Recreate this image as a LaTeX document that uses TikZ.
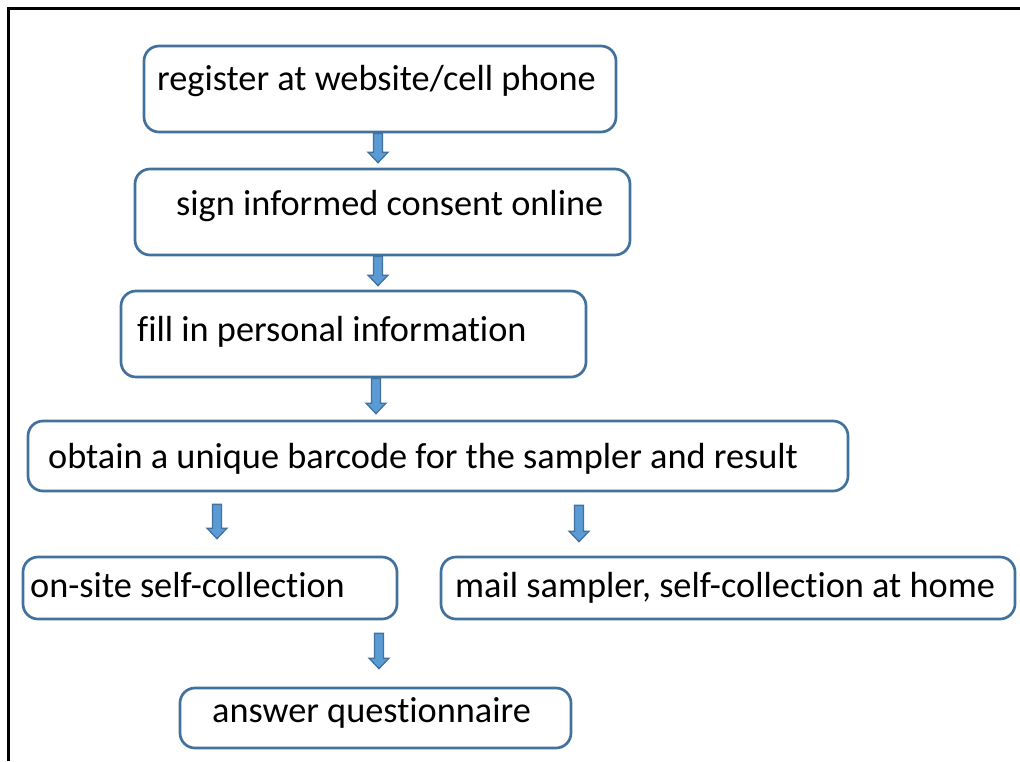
\documentclass[tikz,border=0pt]{standalone}
\usepackage{fontspec}
\setmainfont[Ligatures=NoCommon]{Carlito}
\usetikzlibrary{calc}
\definecolor{boxline}{HTML}{41719C}
\definecolor{arrowfill}{HTML}{5B9BD5}
\tikzset{
  stepbox/.style={draw=boxline, line width=2.7pt, rounded corners=15pt,
    inner sep=0pt, fill=white},
  steptext/.style={inner sep=0pt, anchor=base west,
    font=\fontsize{36.3}{40}\selectfont},
  blockarrow/.style={fill=arrowfill, draw=boxline, line width=1.3pt},
  frameline/.style={line width=3pt, black},
}
% downward block arrow from the top of its shaft (#1) to its tip (#2)
\newcommand\blockdown[2]{%
  \draw[blockarrow] let \p1=#1, \p2=#2 in
    (\x1-4.5pt,\y1) -- (\x1+4.5pt,\y1) -- (\x1+4.5pt,\y2+10.5pt)
    -- (\x1+10pt,\y2+10.5pt) -- (\x1,\y2) -- (\x1-10pt,\y2+10.5pt)
    -- (\x1-4.5pt,\y2+10.5pt) -- cycle;}
\begin{document}
\begin{tikzpicture}[x=1pt, y=-1pt]
  \useasboundingbox (0,0) rectangle (1020,761);
  \draw[frameline] (8.5,761) -- (8.5,8.5) -- (1020,8.5);

  % boxes
  \node[stepbox, minimum width=472pt, minimum height=86pt] (b1) at (380,89) {};
  \node[stepbox, minimum width=495pt, minimum height=86pt] (b2) at (382.5,212) {};
  \node[stepbox, minimum width=465pt, minimum height=86pt] (b3) at (353.5,334) {};
  \node[stepbox, minimum width=820pt, minimum height=70pt] (b4) at (438,456) {};
  \node[stepbox, minimum width=374pt, minimum height=62pt] (b5) at (210,588) {};
  \node[stepbox, minimum width=574pt, minimum height=62pt] (b6) at (728,588) {};
  \node[stepbox, minimum width=391pt, minimum height=60pt] (b7) at (375.5,718) {};

  % texts
  \node[steptext] (t1) at (157,90)  {register at website/cell phone};
  \node[steptext] (t2) at (176,215) {sign informed consent online};
  \node[steptext] (t3) at (137,341) {fill in personal information};
  \node[steptext] (t4) at (48,468)  {obtain a unique barcode for the sampler and result};
  \node[steptext] (t5) at (30,597)  {on-site self-collection};
  \node[steptext] (t6) at (455,597) {mail sampler, self-collection at home};
  \node[steptext] (t7) at (212,722) {answer questionnaire};

  % arrows between steps
  \blockdown{(378,0 |- b1.south)}{($(378,0 |- b2.north)+(0,-5)$)}
  \blockdown{(378,0 |- b2.south)}{($(378,0 |- b3.north)+(0,-4)$)}
  \blockdown{(376,0 |- b3.south)}{($(376,0 |- b4.north)+(0,-6)$)}
  \blockdown{($(217,0 |- b4.south)+(0,12)$)}{($(217,0 |- b5.north)+(0,-17)$)}
  \blockdown{($(579,0 |- b4.south)+(0,13)$)}{($(579,0 |- b6.north)+(0,-14)$)}
  \blockdown{($(379,0 |- b5.south)+(0,13)$)}{($(379,0 |- b7.north)+(0,-18)$)}
\end{tikzpicture}
\end{document}
